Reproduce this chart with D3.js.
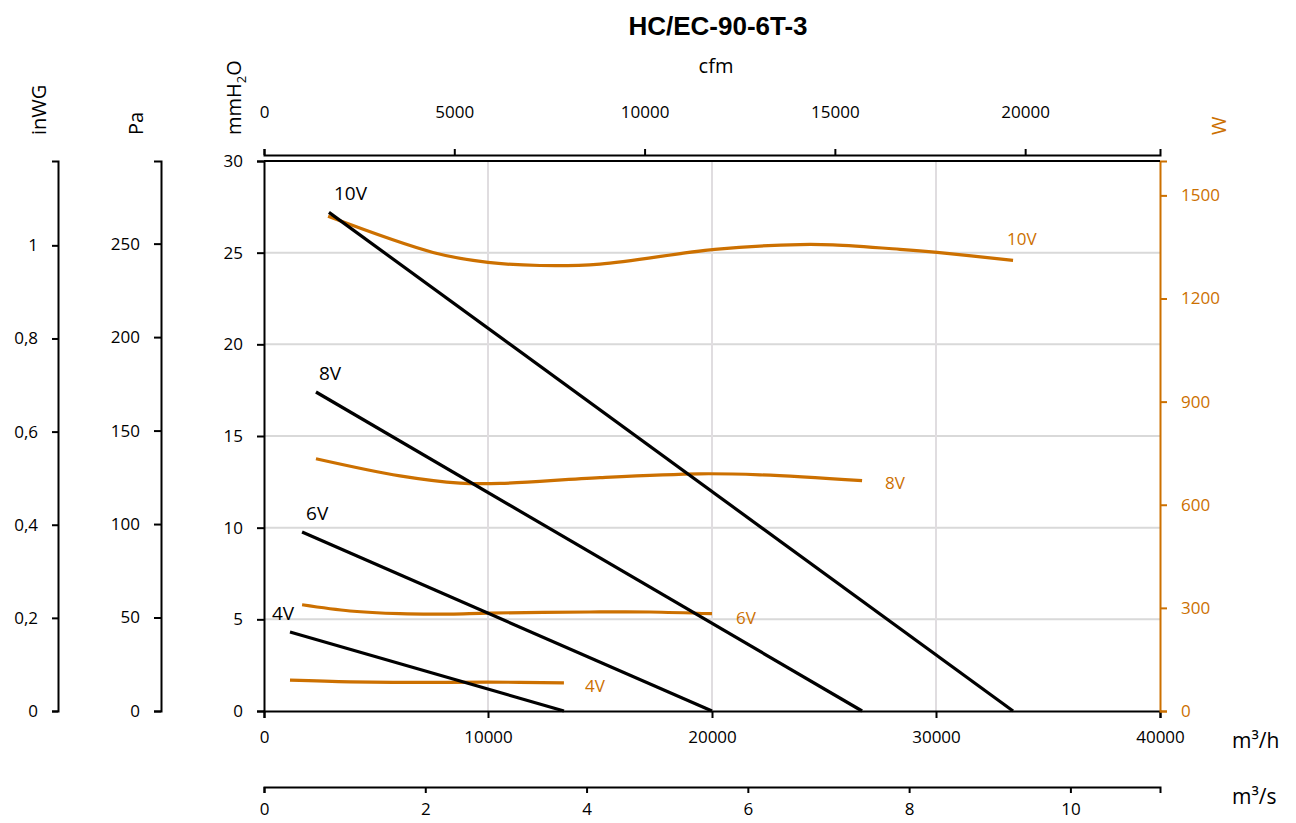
<!DOCTYPE html>
<html><head><meta charset="utf-8">
<script src="https://cdn.jsdelivr.net/npm/d3@7"></script>
<style>
body{margin:0;background:#fff;}
svg{display:block;font-family:"Open Sans",sans-serif;}
</style></head>
<body><svg id="c" width="1296" height="823"></svg>
<script>
// ---------- data ----------
const title = "HC/EC-90-6T-3";
const speeds = ["10V","8V","6V","4V"];
// pressure curves: [m3/h, mmH2O]
const press10 = [[2900,27.2],[33440,0]];
const press8  = [[2320,17.4],[26700,0]];
const press6  = [[1700,9.76],[20000,0]];
const press4  = [[1160,4.31],[13390,0]];
// power curves: [m3/h, W]
const power10 = [[2860,1439],[7545,1334],[10000,1305],[12320,1296],[15000,1300],[20130,1343],[23930,1357],[25400,1356],[28390,1343],[30050,1334],[33440,1311]];
const power8  = [[2320,734],[6070,684],[8750,663],[10540,662],[15000,679],[19460,690],[22140,687],[26700,670]];
const power6  = [[1700,309],[3840,291],[6070,283],[8300,282],[10000,285],[14550,288],[17230,288],[20000,283]];
const power4  = [[1160,90],[3840,85],[6960,83],[10000,84],[13390,82]];
const pressSeries = [press10,press8,press6,press4];
const powerSeries = [power10,power8,power6,power4];
// tick values
const xTicks = [0,10000,20000,30000,40000];
const yTicks = [0,5,10,15,20,25,30];
const wTicks = [0,300,600,900,1200,1500];
const paTicks = [0,50,100,150,200,250];
const inTicks = [0,0.2,0.4,0.6,0.8,1];
const cfmTicks = [0,5000,10000,15000,20000];
const m3sTicks = [0,2,4,6,8,10];
// label offsets (px) for curve labels
const pressLabelOff = [[5,-12],[3,-12],[4,-12],[-18,-12]];
const powerLabelOff = [[-6,-15],[23,8],[24,10],[21,9]];

const ORANGE = "#cc7000";
const svg = d3.select("#c");
const L=264,R=1160,T=161,B=711;
const x = d3.scaleLinear([0,40000],[L,R]);
const y = d3.scaleLinear([0,30],[B,T]);
const yW = d3.scaleLinear([0,1600],[B,T]);
const yPa = d3.scaleLinear([0,30*9.80665],[B,T]);
const yIn = d3.scaleLinear([0,30/25.4],[B,T]);
const xCfm = d3.scaleLinear([0,40000/1.699011],[L,R]);
const xS = d3.scaleLinear([0,40000/3600],[L,R]);
const comma = v => String(v).replace(".",",");
const plain = v => String(v);
const FS = 17;

// gridlines
const g = svg.append("g");
g.selectAll(".hg").data(yTicks.filter(v=>v>0&&v<30)).join("line")
 .attr("x1",L).attr("x2",R).attr("y1",d=>y(d)).attr("y2",d=>y(d))
 .attr("stroke","#d9d9d9").attr("stroke-width",2);
g.selectAll(".vg").data(xTicks.filter(v=>v>0&&v<40000)).join("line")
 .attr("y1",T).attr("y2",B).attr("x1",d=>x(d)).attr("x2",d=>x(d))
 .attr("stroke","#e0dde0").attr("stroke-width",2);

function style(sel,color,fs){
  sel.select(".domain").attr("stroke",color).attr("stroke-width",2);
  sel.selectAll(".tick line").attr("stroke",color).attr("stroke-width",2);
  sel.selectAll(".tick text").attr("fill",color).style("font-size",(fs||FS)+"px").style("font-family","'Open Sans',sans-serif");
}
// main axes
const ax = svg.append("g").attr("transform",`translate(0,${B})`)
 .call(d3.axisBottom(x).tickValues(xTicks).tickFormat(plain).tickSizeOuter(0).tickSize(7).tickPadding(13));
style(ax,"#000");
const ay = svg.append("g").attr("transform",`translate(${L},0)`)
 .call(d3.axisLeft(y).tickValues(yTicks).tickFormat(plain).tickSizeOuter(0).tickSize(7).tickPadding(14));
style(ay,"#000");
const aw = svg.append("g").attr("transform",`translate(${R},0)`)
 .call(d3.axisRight(yW).tickValues(wTicks).tickFormat(plain).tickSizeOuter(0).tickSize(7).tickPadding(14));
style(aw,ORANGE);
const apa = svg.append("g").attr("transform",`translate(161,0)`)
 .call(d3.axisLeft(yPa).tickValues(paTicks).tickFormat(plain).tickSizeOuter(0).tickSize(7).tickPadding(14));
style(apa,"#000");
const ain = svg.append("g").attr("transform",`translate(58,0)`)
 .call(d3.axisLeft(yIn).tickValues(inTicks).tickFormat(comma).tickSizeOuter(0).tickSize(6).tickPadding(14));
style(ain,"#000");
const acfm = svg.append("g").attr("transform",`translate(0,155)`)
 .call(d3.axisTop(xCfm).tickValues(cfmTicks).tickFormat(plain).tickSizeOuter(0).tickSize(6).tickPadding(31));
style(acfm,"#000");
const as = svg.append("g").attr("transform",`translate(0,787)`)
 .call(d3.axisBottom(xS).tickValues(m3sTicks).tickFormat(plain).tickSizeOuter(0).tickSize(6).tickPadding(10));
style(as,"#000");
// frame: top border
svg.append("line").attr("x1",L).attr("x2",R).attr("y1",T).attr("y2",T).attr("stroke","#000").attr("stroke-width",2);

// curves
const lineP = d3.line().x(d=>x(d[0])).y(d=>y(d[1]));
const lineW = d3.line().x(d=>x(d[0])).y(d=>yW(d[1])).curve(d3.curveCatmullRom.alpha(0.5));
svg.selectAll(".pw").data(powerSeries).join("path")
 .attr("d",lineW).attr("fill","none").attr("stroke",ORANGE).attr("stroke-width",3.2);
svg.selectAll(".pr").data(pressSeries).join("path")
 .attr("d",lineP).attr("fill","none").attr("stroke","#000").attr("stroke-width",3.2);

// curve labels
pressSeries.forEach((s,i)=>{
  svg.append("text").attr("x",x(s[0][0])+pressLabelOff[i][0]).attr("y",y(s[0][1])+pressLabelOff[i][1])
   .text(speeds[i]).style("font-size","19px").attr("fill","#000");
});
powerSeries.forEach((s,i)=>{
  const e=s[s.length-1];
  svg.append("text").attr("x",x(e[0])+powerLabelOff[i][0]).attr("y",yW(e[1])+powerLabelOff[i][1])
   .text(speeds[i]).style("font-size","17px").attr("fill",ORANGE);
});

// titles
svg.append("text").attr("x",718).attr("y",35).attr("text-anchor","middle")
 .style("font-family","'Liberation Sans',Arial,sans-serif").style("font-weight","bold").style("font-size","26px").text(title);
svg.append("text").attr("x",716).attr("y",73).attr("text-anchor","middle").style("font-size","20px").text("cfm");
svg.append("text").attr("x",1232).attr("y",748).style("font-size","21px").text("m³/h");
svg.append("text").attr("x",1232).attr("y",804).style("font-size","21px").text("m³/s");
function vlab(xp,yp,txt,color){
  return svg.append("text").attr("transform",`translate(${xp},${yp}) rotate(-90)`)
   .style("font-size","20px").attr("fill",color||"#000").text(txt);
}
vlab(46,135,"inWG");
vlab(143,135,"Pa");
const mm = vlab(241,135,"mmH");
mm.append("tspan").text("2").style("font-size","13px").attr("dy",5);
mm.append("tspan").text("O").attr("dy",-5);
vlab(1226,135,"W",ORANGE);
</script></body></html>
